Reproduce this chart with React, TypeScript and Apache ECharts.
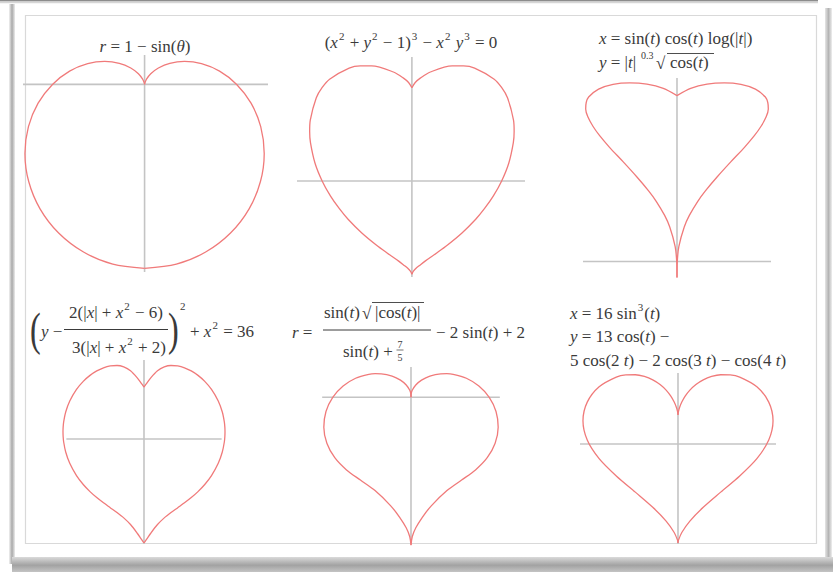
import React, { useEffect, useRef } from "react";
import * as echarts from "echarts";

const INK = "#3a3a3a";
const CURVE = "#f07a7a";
const AXIS = "#c4c4c4";
const FONT = '"Liberation Serif", "DejaVu Serif", serif';
const FS = 17;

// Panel 1: r = 1 − sin(θ)  (right half, cusp → bottom)
const cardioidX = [0, 0.003, 0.021, 0.067, 0.15, 0.274, 0.433, 0.618, 0.814, 1.0, 1.156, 1.261, 1.299, 1.258, 1.135, 0.933, 0.663, 0.345, 0];
const cardioidY = [0, 0.015, 0.057, 0.116, 0.179, 0.23, 0.25, 0.225, 0.144, 0, -0.204, -0.459, -0.75, -1.056, -1.353, -1.616, -1.823, -1.955, -2.0];

// Panel 2: (x² + y² − 1)³ − x² y³ = 0
const implicitX = [0, 0.037, 0.097, 0.206, 0.449, 0.575, 0.699, 0.917, 1.001, 1.065, 1.132, 1.139, 1.13, 1.079, 1.0, 0.908, 0.81, 0.711, 0.558, 0.397, 0.28, 0.151, 0.08, 0.049, 0.017, 0];
const implicitY = [1, 1.056, 1.106, 1.169, 1.234, 1.234, 1.211, 1.092, 1.001, 0.893, 0.654, 0.531, 0.411, 0.19, 0, -0.16, -0.295, -0.411, -0.558, -0.687, -0.77, -0.857, -0.91, -0.934, -0.967, -1];

// Panel 3: x = sin(t)cos(t)log|t|, y = |t|^0.3 √cos(t)
const logX = [0, 0.001, 0.007, 0.027, 0.046, 0.078, 0.105, 0.15, 0.201, 0.252, 0.288, 0.313, 0.332, 0.34, 0.338, 0.329, 0.292, 0.238, 0.176, 0.112, 0.051, 0];
const logY = [0, 0.063, 0.126, 0.204, 0.251, 0.309, 0.349, 0.407, 0.468, 0.527, 0.573, 0.611, 0.649, 0.681, 0.707, 0.729, 0.761, 0.78, 0.786, 0.781, 0.764, 0.735];

// Panel 4: (y − 2(|x|+x²−6)/(3(|x|+x²+2)))² + x² = 36
const fracX = [0, 0.1, 0.2, 0.5, 1, 1.5, 2, 2.5, 3, 3.5, 4, 4.5, 5, 5.5, 5.8, 5.95, 5.99, 6, 5.99, 5.95, 5.8, 5.5, 5, 4.5, 4, 3.5, 3, 2.5, 2, 1.5, 1, 0.5, 0.2, 0.1, 0];
const fracY = [4, 4.138, 4.282, 4.706, 5.249, 5.548, 5.657, 5.625, 5.482, 5.239, 4.896, 4.436, 3.817, 2.923, 2.074, 1.318, 0.892, 0.546, 0.199, -0.231, -0.998, -1.873, -2.817, -3.502, -4.048, -4.507, -4.91, -5.284, -5.657, -6.07, -6.583, -7.252, -7.711, -7.86, -8];

// Panel 5: r = sin(t)√|cos(t)| / (sin(t) + 7/5) − 2 sin(t) + 2
const polarX = [0, 0.003, 0.011, 0.035, 0.122, 0.269, 0.483, 0.758, 0.914, 1.078, 1.416, 1.735, 2.0, 2.173, 2.228, 2.15, 1.948, 1.648, 1.293, 0.919, 0.518, 0.285, 0.123, 0.033, 0];
const polarY = [0, 0.079, 0.13, 0.199, 0.334, 0.466, 0.576, 0.636, 0.64, 0.623, 0.515, 0.306, 0, -0.383, -0.811, -1.242, -1.634, -1.964, -2.239, -2.524, -2.936, -3.252, -3.531, -3.766, -4];

// Panel 6: x = 16 sin³(t), y = 13cos(t) − 5cos(2t) − 2cos(3t) − cos(4t)
const trigX = [0, 0.011, 0.084, 0.277, 0.64, 1.208, 2.0, 3.019, 4.25, 5.657, 7.19, 8.795, 10.39, 13.28, 15.28, 16.0, 15.28, 13.28, 10.39, 7.19, 4.25, 2.0, 0.64, 0.084, 0];
const trigY = [5, 5.155, 5.606, 6.313, 7.212, 8.224, 9.258, 10.223, 11.03, 11.606, 11.9, 11.865, 11.5, 9.834, 7.189, 4.0, 0.675, -2.522, -5.5, -8.28, -10.886, -13.258, -15.22, -16.534, -17];

type Panel = {
  xs: number[];
  ys: number[];
  grid: { left: number; top: number; width: number; height: number };
  xRange: [number, number];
  yRange: [number, number];
  hAxis: [number, number, number]; // xFrom, xTo, y
  vAxis: [number, number, number]; // yFrom, yTo, x
};

const panels: Panel[] = [
  { xs: cardioidX, ys: cardioidY, grid: { left: 23, top: 55, width: 245, height: 217 }, xRange: [-1.32, 1.34], yRange: [-2.04, 0.32], hAxis: [-1.32, 1.34, 0], vAxis: [-2.04, 0.32, 0] },
  { xs: implicitX, ys: implicitY, grid: { left: 297, top: 57, width: 228, height: 220 }, xRange: [-1.28, 1.26], yRange: [-1.03, 1.33], hAxis: [-1.28, 1.26, 0], vAxis: [-1.03, 1.33, 0] },
  { xs: logX, ys: logY, grid: { left: 583, top: 78, width: 188, height: 202 }, xRange: [-0.35, 0.35], yRange: [-0.01, 0.806], hAxis: [-0.35, 0.35, 0.065], vAxis: [0.065, 0.806, 0] },
  { xs: fracX, ys: fracY, grid: { left: 63, top: 360, width: 162, height: 184 }, xRange: [-6, 6], yRange: [-8.08, 6.08], hAxis: [-5.75, 5.75, 0], vAxis: [-8.08, 6.08, 0] },
  { xs: polarX, ys: polarY, grid: { left: 321, top: 367, width: 180, height: 180 }, xRange: [-2.3, 2.3], yRange: [-4.05, 0.82], hAxis: [-2.27, 2.27, 0], vAxis: [-3.95, 0.82, 0] },
  { xs: trigX, ys: trigY, grid: { left: 580, top: 373, width: 196, height: 171 }, xRange: [-16.5, 16.5], yRange: [-17.2, 12.2], hAxis: [-16.5, 16.5, 0], vAxis: [-17.2, 12.2, 0] },
];

const rich = (size: number) => ({
  i: { fontStyle: "italic", fontFamily: FONT, fontSize: size, fill: INK, color: INK },
  s: { fontFamily: FONT, fontSize: 11, fill: INK, color: INK, padding: [0, 1, 12, 1] },
});

const txt = (x: number, y: number, text: string, size = FS, align = "left", extra: any = {}) => ({
  type: "text",
  x,
  y,
  z: 10,
  silent: true,
  ...extra,
  style: {
    text,
    fill: INK,
    fontFamily: FONT,
    fontSize: size,
    textAlign: align,
    textVerticalAlign: "middle",
    align,
    verticalAlign: "middle",
    rich: rich(size),
  },
});

const seg = (x1: number, y1: number, x2: number, y2: number, w = 1) => ({
  type: "line",
  z: 10,
  silent: true,
  shape: { x1, y1, x2, y2 },
  style: { stroke: INK, lineWidth: w },
});

const frame = [
  { type: "rect", z: 0, silent: true, shape: { x: 0, y: 0, width: 818, height: 1.6 }, style: { fill: "#8c8c8c" } },
  { type: "rect", z: 0, silent: true, shape: { x: 0, y: 1.6, width: 818, height: 1.6 }, style: { fill: "#d6d6d6" } },
  {
    type: "rect", z: 0, silent: true, shape: { x: 9, y: 4, width: 6, height: 560 },
    style: { fill: new echarts.graphic.LinearGradient(0, 0, 1, 0, [{ offset: 0, color: "#f2f2f2" }, { offset: 0.5, color: "#a9a9a9" }, { offset: 1, color: "#ececec" }]) },
  },
  {
    type: "rect", z: 0, silent: true, shape: { x: 825, y: 8, width: 7, height: 552 },
    style: { fill: new echarts.graphic.LinearGradient(0, 0, 1, 0, [{ offset: 0, color: "#e6e6e6" }, { offset: 0.5, color: "#b4b4b4" }, { offset: 1, color: "#efefef" }]) },
  },
  {
    type: "rect", z: 0, silent: true, shape: { x: 12, y: 557, width: 821, height: 15 },
    style: { fill: new echarts.graphic.LinearGradient(0, 0, 0, 1, [{ offset: 0, color: "#dadada" }, { offset: 0.55, color: "#a2a2a2" }, { offset: 1, color: "#c4c4c4" }]) },
  },
  { type: "rect", z: 0, silent: true, shape: { x: 25.5, y: 15.5, width: 791, height: 528 }, style: { fill: "none", stroke: "#d9d9d9", lineWidth: 1.2 } },
];

const formulas = [
  // Panel 1
  txt(145, 46, "{i|r} = 1 − sin({i|θ})", FS, "center"),
  // Panel 2
  txt(411, 42, "({i|x}{s|2} + {i|y}{s|2} − 1){s|3} − {i|x}{s|2} {i|y}{s|3} = 0", FS, "center"),
  // Panel 3
  txt(599, 38, "{i|x} = sin({i|t}) cos({i|t}) log(|{i|t}|)", FS),
  txt(599, 62, "{i|y} = |{i|t}|", FS),
  txt(641, 55, "0.3", 10),
  txt(656, 63, "√", FS),
  txt(670, 62, "cos({i|t})", FS),
  seg(667, 53.5, 714, 53.5, 0.9),
  // Panel 4
  txt(30, 330, "(", 46, "left", { scaleX: 0.7 }),
  txt(41, 331, "{i|y} −", FS),
  txt(116, 312, "2(|{i|x}| + {i|x}{s|2} − 6)", FS, "center"),
  seg(64, 329.5, 168, 329.5, 1),
  txt(119, 347, "3(|{i|x}| + {i|x}{s|2} + 2)", FS, "center"),
  txt(168, 330, ")", 46, "left", { scaleX: 0.7 }),
  txt(180, 306, "2", 11),
  txt(190, 331, "+ {i|x}{s|2} = 36", FS),
  // Panel 5
  txt(292, 332, "{i|r} =", FS),
  txt(324, 312, "sin({i|t})", FS),
  txt(362, 313, "√", FS),
  txt(375, 312, "|cos({i|t})|", FS),
  seg(372, 302.5, 424, 302.5, 0.9),
  seg(323, 330, 431, 330, 1),
  txt(343, 351, "sin({i|t}) +", FS),
  txt(400, 344, "7", 10, "center"),
  seg(396.5, 350, 403.5, 350, 0.7),
  txt(400, 357, "5", 10, "center"),
  txt(436, 332, "− 2 sin({i|t}) + 2", FS),
  // Panel 6
  txt(570, 313, "{i|x} = 16 sin{s|3}({i|t})", FS),
  txt(570, 336, "{i|y} = 13 cos({i|t}) −", FS),
  txt(570, 360, "5 cos(2 {i|t}) − 2 cos(3 {i|t}) − cos(4 {i|t})", FS),
];

export default function App() {
  const ref = useRef<HTMLDivElement>(null);

  useEffect(() => {
    if (!ref.current) return;
    const chart = echarts.init(ref.current, null, { renderer: "svg" });

    const series: any[] = [];
    panels.forEach((p, i) => {
      const [hx0, hx1, hy] = p.hAxis;
      const [vy0, vy1, vx] = p.vAxis;
      const base = { type: "line", xAxisIndex: i, yAxisIndex: i, symbol: "none", showSymbol: false, silent: true, clip: false, animation: false };
      series.push({ ...base, z: 1, data: [[hx0, hy], [hx1, hy]], lineStyle: { color: AXIS, width: 1.6 } });
      series.push({ ...base, z: 1, data: [[vx, vy0], [vx, vy1]], lineStyle: { color: AXIS, width: 1.6 } });
      const right = p.xs.map((x, k) => [x, p.ys[k]]);
      const left = p.xs.map((x, k) => [-x, p.ys[k]]);
      series.push({ ...base, z: 3, smooth: 0.3, data: right, lineStyle: { color: CURVE, width: 1.3 } });
      series.push({ ...base, z: 3, smooth: 0.3, data: left, lineStyle: { color: CURVE, width: 1.3 } });
    });

    chart.setOption({
      animation: false,
      backgroundColor: "#ffffff",
      grid: panels.map((p) => ({ ...p.grid, containLabel: false })),
      xAxis: panels.map((p, i) => ({ type: "value", gridIndex: i, min: p.xRange[0], max: p.xRange[1], show: false })),
      yAxis: panels.map((p, i) => ({ type: "value", gridIndex: i, min: p.yRange[0], max: p.yRange[1], show: false })),
      series,
      graphic: [...frame, ...formulas],
    });

    return () => chart.dispose();
  }, []);

  return <div ref={ref} style={{ position: "fixed", left: 0, top: 0, width: 833, height: 574 }} />;
}
